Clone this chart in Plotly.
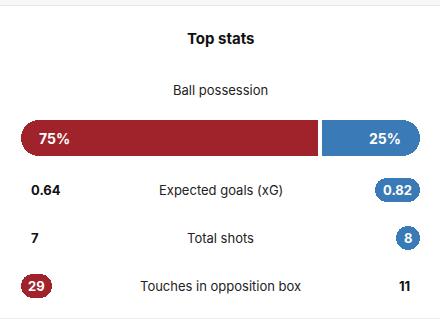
import plotly.graph_objects as go

# ---- data ----
title = "Top stats"
possession_label = "Ball possession"
possession = [75, 25]          # home, away (%)
stat_labels = ["Expected goals (xG)", "Total shots", "Touches in opposition box"]
home_values = ["0.64", "7", "29"]
away_values = ["0.82", "8", "11"]
home_num = [0.64, 7, 29]
away_num = [0.82, 8, 11]

# ---- style ----
RED = "#A0232B"
BLUE = "#3A7AB6"
W, H = 440, 333
X0, X1 = 21, 420            # pixel span of the 0..100 axis
PXU = 100 / (X1 - X0)       # axis units per pixel
FONT = "Inter"
ROW_Y = [190, 238, 286]     # y (reversed px axis) of stat rows
POSS_Y = 138
BAR_H = 36
PILL_H = 24
GAP = 4 * PXU

fig = go.Figure()


def add_bar(y, start, length, height, color, radius):
    fig.add_trace(go.Bar(
        orientation="h", y=[y], x=[length], base=[start], width=[height],
        marker=dict(color=color, cornerradius=radius, line=dict(width=0)),
        hoverinfo="skip", showlegend=False))


# possession bar: rounded outer ends, square inner ends at the split
split = possession[0]
red_len = possession[0] - GAP / 2
blue_len = possession[1] - GAP / 2
add_bar(POSS_Y, 0, red_len, BAR_H, RED, BAR_H / 2)
add_bar(POSS_Y, red_len / 2, red_len / 2, BAR_H, RED, 0)
add_bar(POSS_Y, split + GAP / 2, blue_len, BAR_H, BLUE, BAR_H / 2)
add_bar(POSS_Y, split + GAP / 2, blue_len / 2, BAR_H, BLUE, 0)

annotations = []
annotations.append(dict(x=0 + 16 * PXU, y=POSS_Y, text=f"{possession[0]}%", xanchor="left",
                        font=dict(family=FONT, size=14, color="white", weight="bold")))
annotations.append(dict(x=100 - 17 * PXU, y=POSS_Y, text=f"{possession[1]}%", xanchor="right",
                        font=dict(family=FONT, size=14, color="white", weight="bold")))


def pill_width(txt):
    return max(PILL_H, 17 + 7 * len(txt))


for i, lab in enumerate(stat_labels):
    y = ROW_Y[i]
    annotations.append(dict(x=50, y=y, text=lab, xanchor="center",
                            font=dict(family=FONT, size=13, color="#222222")))
    hv, av = home_values[i], away_values[i]
    home_win = home_num[i] > away_num[i]
    away_win = away_num[i] > home_num[i]
    # home side
    if home_win:
        w = pill_width(hv) * PXU
        add_bar(y, 0, w, PILL_H, RED, PILL_H / 2)
        annotations.append(dict(x=w / 2, y=y, text=hv, xanchor="center",
                                font=dict(family=FONT, size=13, color="white", weight="bold")))
    else:
        annotations.append(dict(x=8 * PXU, y=y, text=hv, xanchor="left",
                                font=dict(family=FONT, size=13, color="#111111", weight="bold")))
    # away side
    if away_win:
        w = pill_width(av) * PXU
        add_bar(y, 100 - w, w, PILL_H, BLUE, PILL_H / 2)
        annotations.append(dict(x=100 - w / 2, y=y, text=av, xanchor="center",
                                font=dict(family=FONT, size=13, color="white", weight="bold")))
    else:
        annotations.append(dict(x=100 - 8 * PXU, y=y, text=av, xanchor="right",
                                font=dict(family=FONT, size=13, color="#111111", weight="bold")))

annotations.append(dict(x=50, y=38, text=title, xanchor="center",
                        font=dict(family=FONT, size=15, color="#111111", weight="bold")))
annotations.append(dict(x=50, y=90, text=possession_label, xanchor="center",
                        font=dict(family=FONT, size=13, color="#222222")))
for a in annotations:
    a.update(showarrow=False, yanchor="middle", xref="x", yref="y")

fig.update_layout(
    width=W, height=H, margin=dict(l=0, r=0, t=0, b=0),
    paper_bgcolor="white", plot_bgcolor="white",
    barmode="overlay", bargap=0,
    xaxis=dict(range=[-X0 * PXU, 100 + (W - X1) * PXU], visible=False, fixedrange=True),
    yaxis=dict(range=[H, 0], visible=False, fixedrange=True),
    annotations=annotations,
    shapes=[
        dict(type="rect", xref="paper", yref="paper", x0=0, x1=1, y0=1, y1=1 - 5 / H,
             fillcolor="#f7f7f7", line=dict(width=0), layer="below"),
        dict(type="line", xref="paper", yref="paper", x0=0, x1=1, y0=1 - 5.5 / H, y1=1 - 5.5 / H,
             line=dict(color="#e8e8e8", width=1)),
        dict(type="line", xref="paper", yref="paper", x0=0, x1=1, y0=1 - 318.5 / H, y1=1 - 318.5 / H,
             line=dict(color="#ececec", width=1)),
    ],
)

fig.write_html("out.html", config=dict(displayModeBar=False))
